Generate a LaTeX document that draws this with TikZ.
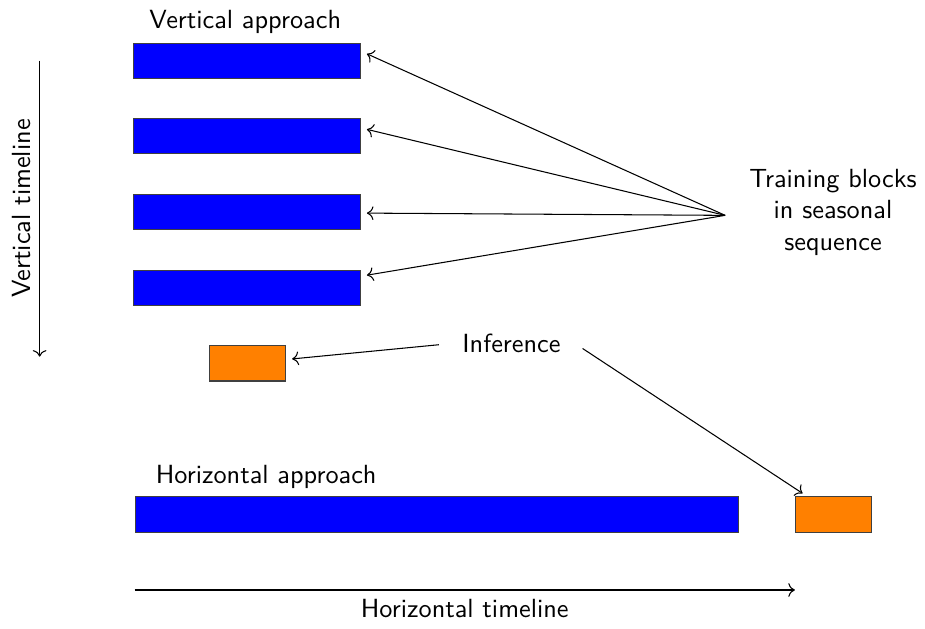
\documentclass[tikz,border=0pt]{standalone}
\usetikzlibrary{arrows.meta,positioning,calc}
\tikzset{blk/.style={draw=black!75,fill=blue,minimum height=4.7mm,inner sep=0pt},
  infblk/.style={draw=black!75,fill=orange,minimum width=10.2mm,minimum height=4.7mm,inner sep=0pt}}
\begin{document}
\begin{tikzpicture}[font=\sffamily]
\useasboundingbox (0,0) rectangle (12.37,-8.40);
% vertical approach
\node[anchor=base] (vap) at (3.28,-0.38) {Vertical approach};
\foreach \i/\y in {1/-0.82,2/-1.82,3/-2.83,4/-3.85}
  \node[blk,minimum width=30.4mm] (v\i) at (3.30,\y) {};
\node[infblk] (vinf) at (3.31,-4.86) {};
% horizontal approach
\node[anchor=base] (hap) at (3.56,-6.47) {Horizontal approach};
\node[blk,minimum width=80.6mm] (hbar) at (5.84,-6.88) {};
\node[infblk] (hinf) at (11.15,-6.88) {};
% labels
\node[align=center] (trn) at (11.14,-2.84) {Training blocks\\in seasonal\\sequence};
\node[anchor=base] (inf) at (6.84,-4.72) {Inference};
\coordinate (fan) at ($(trn.west)+(-0.2,-0.04)$);
\foreach \i/\dy in {1/0.10,2/0.09,3/-0.02,4/0.17}
  \draw[->] (fan) -- ($(v\i.east)+(0.08,\dy)$);
\draw[->] ($(inf.base west)+(-0.19,0.11)$) -- ($(vinf.east)+(0.08,0.06)$);
\draw[->] ($(inf.base east)+(0.17,0.06)$) -- ($(hinf.north west)+(0.1,0.04)$);
% timelines
\coordinate (vt0) at (0.53,-0.81); \coordinate (vt1) at (0.53,-4.77);
\draw[->] (vt0) -- (vt1) node[midway,rotate=90,above] {Vertical timeline};
\coordinate (ht0) at (1.80,-7.89); \coordinate (ht1) at (10.63,-7.89);
\draw[->] (ht0) -- (ht1) node[midway,below] {Horizontal timeline};
\end{tikzpicture}
\end{document}
